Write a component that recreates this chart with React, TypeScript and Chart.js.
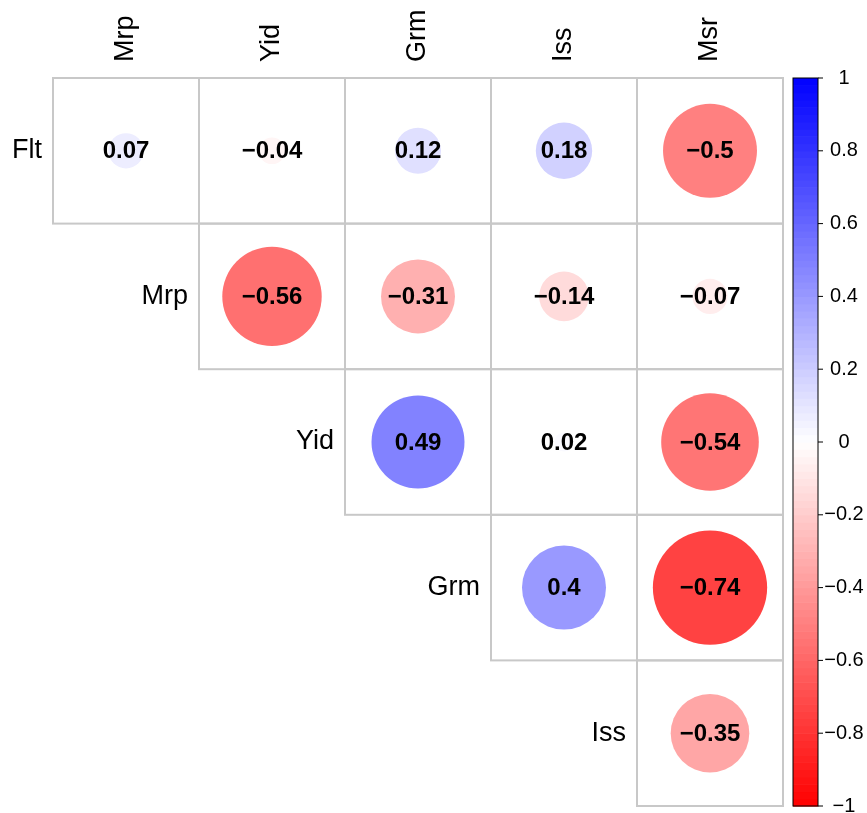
import React, { useEffect, useRef } from "react";
import { Chart, registerables } from "chart.js";

Chart.register(...registerables);

const rowLabels = ["Flt", "Mrp", "Yid", "Grm", "Iss"];
const colLabels = ["Mrp", "Yid", "Grm", "Iss", "Msr"];
// upper-triangle correlation values (null = empty cell)
const rowFlt = [0.07, -0.04, 0.12, 0.18, -0.5];
const rowMrp = [null, -0.56, -0.31, -0.14, -0.07];
const rowYid = [null, null, 0.49, 0.02, -0.54];
const rowGrm = [null, null, null, 0.4, -0.74];
const rowIss = [null, null, null, null, -0.35];
const matrix: (number | null)[][] = [rowFlt, rowMrp, rowYid, rowGrm, rowIss];
const colorbarTicks = [1, 0.8, 0.6, 0.4, 0.2, 0, -0.2, -0.4, -0.6, -0.8, -1];

const FONT = "'Liberation Sans', Arial, Helvetica, sans-serif";

function corrColor(v: number): string {
  if (v >= 0) {
    const c = Math.round(255 * (1 - v));
    return `rgb(${c},${c},255)`;
  }
  const c = Math.round(255 * (1 + v));
  return `rgb(255,${c},${c})`;
}

function fmt(v: number): string {
  return String(v).replace("-", "\u2212");
}

export default function App() {
  const ref = useRef<HTMLCanvasElement | null>(null);

  useEffect(() => {
    if (!ref.current) return;
    const points: { x: number; y: number; v: number }[] = [];
    matrix.forEach((row, i) =>
      row.forEach((v, j) => {
        if (v !== null) points.push({ x: j, y: i, v });
      })
    );

    const decorPlugin = {
      id: "decor",
      beforeDatasetsDraw(chart: any) {
        const { ctx } = chart;
        const xs = chart.scales.x;
        const ys = chart.scales.y;
        ctx.save();
        // grid cells
        ctx.strokeStyle = "#c8c8c8";
        ctx.lineWidth = 2;
        matrix.forEach((row, i) =>
          row.forEach((v, j) => {
            if (v === null) return;
            const x0 = xs.getPixelForValue(j - 0.5);
            const x1 = xs.getPixelForValue(j + 0.5);
            const y0 = ys.getPixelForValue(i - 0.5);
            const y1 = ys.getPixelForValue(i + 0.5);
            ctx.strokeRect(x0, y0, x1 - x0, y1 - y0);
          })
        );
        // row labels
        ctx.fillStyle = "#000";
        ctx.font = `27px ${FONT}`;
        ctx.textAlign = "right";
        ctx.textBaseline = "middle";
        rowLabels.forEach((lab, i) => {
          const x = xs.getPixelForValue(i - 0.5) - 11;
          const y = ys.getPixelForValue(i);
          ctx.fillText(lab, x, y);
        });
        // column labels (rotated)
        ctx.font = `27px ${FONT}`;
        ctx.textAlign = "left";
        ctx.textBaseline = "middle";
        colLabels.forEach((lab, j) => {
          const x = xs.getPixelForValue(j);
          const y = ys.getPixelForValue(-0.5) - 16;
          ctx.save();
          ctx.translate(x, y);
          ctx.rotate(-Math.PI / 2);
          ctx.fillText(lab, 0, 0);
          ctx.restore();
        });
        // colorbar
        const cb = chart.scales.cbar;
        const barL = chart.chartArea.right + 10;
        const barW = 25;
        const top = cb.getPixelForValue(1);
        const bot = cb.getPixelForValue(-1);
        const steps = 100;
        for (let k = 0; k < steps; k++) {
          const v0 = -1 + (2 * k) / steps;
          const v1 = -1 + (2 * (k + 1)) / steps;
          const ya = cb.getPixelForValue(v1);
          const yb = cb.getPixelForValue(v0);
          ctx.fillStyle = corrColor((v0 + v1) / 2);
          ctx.fillRect(barL, ya, barW, yb - ya + 0.6);
        }
        ctx.strokeStyle = "#000";
        ctx.lineWidth = 1;
        ctx.strokeRect(barL, top, barW, bot - top);
        ctx.font = `20px ${FONT}`;
        ctx.textAlign = "center";
        ctx.textBaseline = "middle";
        ctx.fillStyle = "#000";
        colorbarTicks.forEach((t) => {
          const y = cb.getPixelForValue(t);
          ctx.beginPath();
          ctx.moveTo(barL + barW, y);
          ctx.lineTo(barL + barW + 5, y);
          ctx.stroke();
          ctx.fillText(fmt(t), barL + barW + 26, y);
        });
        ctx.restore();
      },
      afterDatasetsDraw(chart: any) {
        const { ctx } = chart;
        const xs = chart.scales.x;
        const ys = chart.scales.y;
        ctx.save();
        ctx.fillStyle = "#000";
        ctx.font = `bold 24px ${FONT}`;
        ctx.textAlign = "center";
        ctx.textBaseline = "middle";
        points.forEach((p) => {
          ctx.fillText(fmt(p.v), xs.getPixelForValue(p.x), ys.getPixelForValue(p.y) + 1);
        });
        ctx.restore();
      },
    };

    const radiusFn = (c: any) => {
      const p = c.raw as { v: number } | undefined;
      if (!p) return 0;
      const xs = c.chart.scales.x;
      const cellW = Math.abs(xs.getPixelForValue(1) - xs.getPixelForValue(0));
      return Math.sqrt(Math.abs(p.v)) * cellW * 0.455;
    };

    const chart = new Chart(ref.current, {
      type: "scatter",
      data: {
        datasets: [
          {
            data: points as any,
            pointRadius: radiusFn as any,
            pointHoverRadius: radiusFn as any,
            pointBorderWidth: 0,
            pointBackgroundColor: ((c: any) => (c.raw ? corrColor(c.raw.v) : "#fff")) as any,
            pointBorderColor: "rgba(0,0,0,0)",
          },
        ],
      },
      options: {
        responsive: false,
        maintainAspectRatio: false,
        animation: false,
        events: [],
        layout: { padding: { left: 53, top: 78, right: 84, bottom: 7 } },
        plugins: { legend: { display: false }, tooltip: { enabled: false } },
        scales: {
          x: { type: "linear", min: -0.5, max: 4.5, display: false },
          y: { type: "linear", min: -0.5, max: 4.5, reverse: true, display: false },
          cbar: { type: "linear", axis: "y", position: "right", min: -1, max: 1, display: false },
        },
      },
      plugins: [decorPlugin],
    });
    return () => chart.destroy();
  }, []);

  return (
    <div style={{ position: "fixed", left: 0, top: 0, width: 867, height: 813, background: "#fff" }}>
      <canvas ref={ref} width={867} height={813} style={{ width: 867, height: 813 }} />
    </div>
  );
}
